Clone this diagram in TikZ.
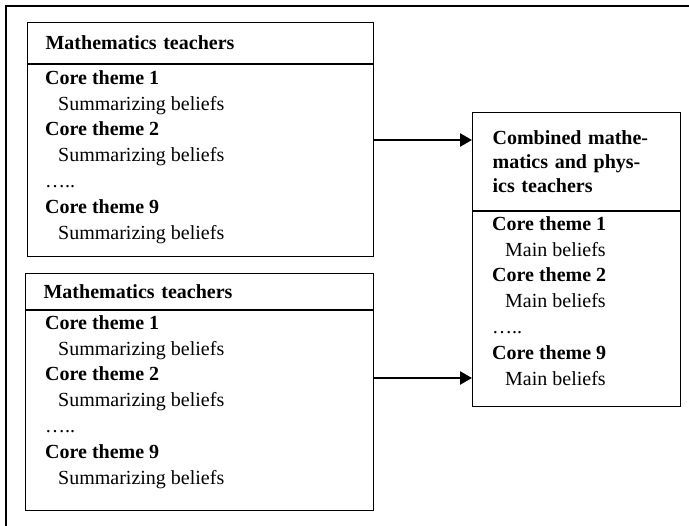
\documentclass[tikz,border=0pt]{standalone}
\usepackage{fontspec}
\setmainfont{Liberation Serif}
\usetikzlibrary{positioning,calc,arrows.meta}

\newcommand{\coretheme}[2]{\textbf{Core theme #1}\\\hspace*{13pt}#2}

\begin{document}
\begin{tikzpicture}[x=1pt,y=-1pt,
    frame/.style={line width=2pt},
    panel/.style={draw,line width=1.2pt,anchor=north west,inner sep=0pt},
    head/.style={panel,align=left,inner xsep=18pt,
                 font=\fontsize{20}{23.8}\selectfont\bfseries},
    beliefs/.style={anchor=north west,inner sep=0pt,align=left,
                    font=\fontsize{20}{25.8}\selectfont},
    flow/.style={line width=2.4pt,-{Triangle[length=12pt,width=13pt]}}
]
\useasboundingbox (0,0) rectangle (689,526);
\draw[frame] (6,530) -- (6,6) -- (692,6);

% first group of mathematics teachers
\node[head,text width=310pt,minimum height=41pt] (mathAhead) at (27,22) {Mathematics teachers};
\node[panel,minimum width=346pt,minimum height=192pt] (mathAbody) at (mathAhead.south west) {};
\node[beliefs] (mathAlist) at ($(mathAbody.north west)+(18,6)$)
    {\coretheme{1}{Summarizing beliefs}\\\coretheme{2}{Summarizing beliefs}\\…..\\\coretheme{9}{Summarizing beliefs}};

% second group of mathematics teachers
\node[head,text width=312pt,minimum height=36pt] (mathBhead) at (25,273) {Mathematics teachers};
\node[panel,minimum width=348pt,minimum height=200pt] (mathBbody) at (mathBhead.south west) {};
\node[beliefs] (mathBlist) at ($(mathBbody.north west)+(20,5)$)
    {\coretheme{1}{Summarizing beliefs}\\\coretheme{2}{Summarizing beliefs}\\…..\\\coretheme{9}{Summarizing beliefs}};

% combined group
\node[head,inner xsep=20pt,text width=168pt,minimum height=98pt] (combhead) at (472,112)
    {Combined mathe-\\matics and phys-\\ics teachers};
\node[panel,minimum width=208pt,minimum height=195pt] (combbody) at (combhead.south west) {};
\node[beliefs] (comblist) at ($(combbody.north west)+(20,5)$)
    {\coretheme{1}{Main beliefs}\\\coretheme{2}{Main beliefs}\\…..\\\coretheme{9}{Main beliefs}};

\coordinate (upper) at (0,140);
\coordinate (lower) at (0,378);
\draw[flow] (upper -| mathAbody.east) -- (upper -| combhead.west);
\draw[flow] (lower -| mathBbody.east) -- (lower -| combbody.west);
\end{tikzpicture}
\end{document}
